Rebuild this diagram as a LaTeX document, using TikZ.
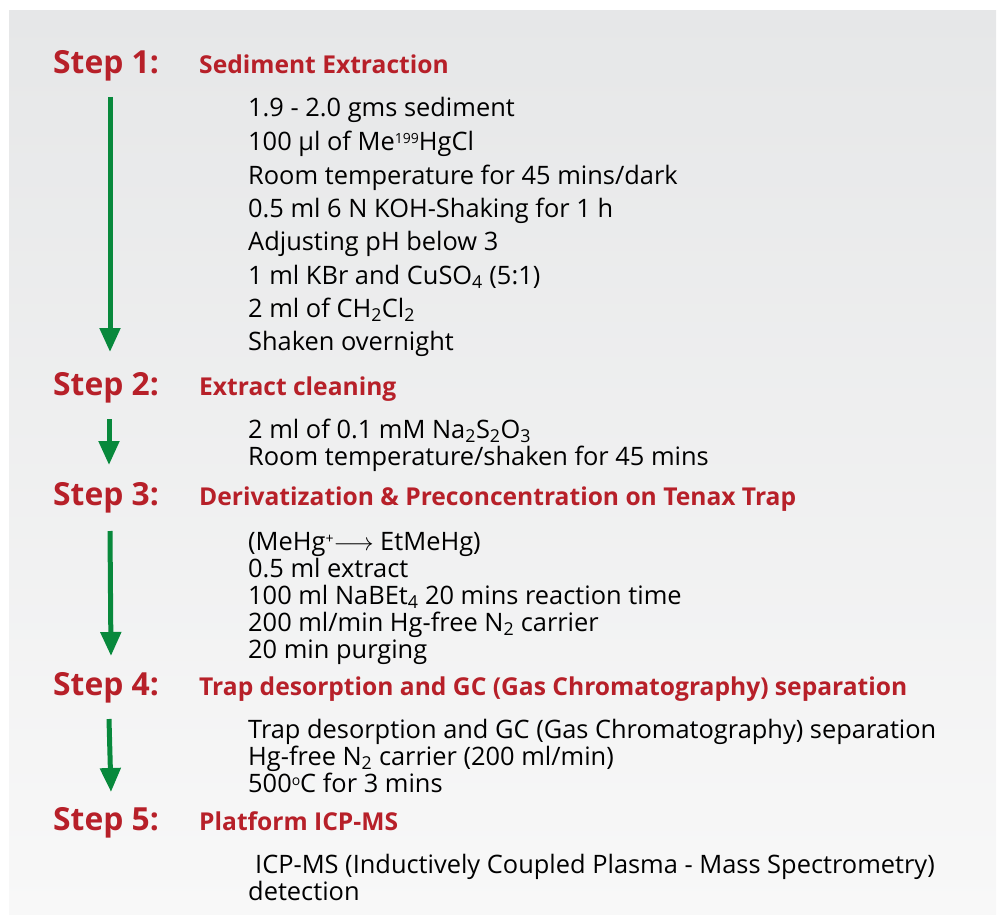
\documentclass[tikz,border=0pt]{standalone}
\usepackage{fontspec}
\setmainfont{Open Sans}
\usepackage{tikz}
\usetikzlibrary{arrows.meta}

\definecolor{stepred}{RGB}{183,32,41}
\definecolor{flowgreen}{RGB}{8,137,60}
\definecolor{bgtop}{RGB}{230,231,232}
\definecolor{bgbottom}{RGB}{248,248,248}
\newcommand{\upsc}[1]{\raisebox{0.5ex}{\fontsize{14}{14}\selectfont #1}}

\begin{document}
\begin{tikzpicture}[x=1pt,y=-1pt, inner sep=0pt, >={Triangle[width=20pt,length=24pt]},
  steplabel/.style={anchor=base west, text=stepred, font=\fontsize{31.8}{32}\selectfont\bfseries},
  stephead/.style={anchor=base west, text=stepred, font=\fontsize{24.6}{25}\selectfont\bfseries},
  item/.style={anchor=base west, text=black, font=\fontsize{25.4}{27}\selectfont},
  flow/.style={->, draw=flowgreen, line width=5pt}]
\useasboundingbox (0,0) rectangle (998,915);
\shade[top color=bgtop, bottom color=bgbottom] (9,11) rectangle (996,915);
% step 1
\node (s1) at (53,74) [steplabel] {Step 1:};
\node (h1) at (199,74) [stephead] {Sediment Extraction};
\node (l11) at (248,117) [item] {1.9 - 2.0 gms sediment};
\node (l12) at (248,150) [item] {100 µl of Me\upsc{199}HgCl};
\node (l13) at (248,184) [item] {Room temperature for 45 mins/dark};
\node (l14) at (248,217) [item] {0.5 ml 6 N KOH-Shaking for 1 h};
\node (l15) at (248,250) [item] {Adjusting pH below 3};
\node (l16) at (248,284) [item] {1 ml KBr and CuSO\textsubscript{4} (5:1)};
\node (l17) at (248,317) [item] {2 ml of CH\textsubscript{2}Cl\textsubscript{2}};
\node (l18) at (248,350) [item] {Shaken overnight};
% step 2
\node (s2) at (53,395) [steplabel] {Step 2:};
\node (h2) at (199,395) [stephead] {Extract cleaning};
\node (l21) at (248,438) [item] {2 ml of 0.1 mM Na\textsubscript{2}S\textsubscript{2}O\textsubscript{3}};
\node (l22) at (248,465) [item] {Room temperature/shaken for 45 mins};
% step 3
\node (s3) at (53,505) [steplabel] {Step 3:};
\node (h3) at (199,505) [stephead] {Derivatization \& Preconcentration on Tenax Trap};
\node (l31) at (248,550) [item] {(MeHg\upsc{+}$\longrightarrow$ EtMeHg)};
\node (l32) at (248,577) [item] {0.5 ml extract};
\node (l33) at (248,604) [item] {100 ml NaBEt\textsubscript{4} 20 mins reaction time};
\node (l34) at (248,631) [item] {200 ml/min Hg-free N\textsubscript{2} carrier};
\node (l35) at (248,658) [item] {20 min purging};
% step 4
\node (s4) at (53,695) [steplabel] {Step 4:};
\node (h4) at (199,695) [stephead] {Trap desorption and GC (Gas Chromatography) separation};
\node (l41) at (248,738) [item] {Trap desorption and GC (Gas Chromatography) separation};
\node (l42) at (248,765) [item] {Hg-free N\textsubscript{2} carrier (200 ml/min)};
\node (l43) at (248,792) [item] {500\upsc{o}C for 3 mins};
% step 5
\node (s5) at (53,830) [steplabel] {Step 5:};
\node (h5) at (199,830) [stephead] {Platform ICP-MS};
\node (l51) at (255,873) [item] {ICP-MS (Inductively Coupled Plasma - Mass Spectrometry)};
\node (l52) at (248,900) [item] {detection};
% arrows
\coordinate (a1) at (110,97);
\coordinate (b1) at (110,352);
\coordinate (a2) at (109,419);
\coordinate (b2) at (109,465);
\coordinate (a3) at (110,531);
\coordinate (b3) at (111,656);
\coordinate (a4) at (109,719);
\coordinate (b4) at (111,792);
\draw[flow] (a1) -- (b1);
\draw[flow] (a2) -- (b2);
\draw[flow] (a3) -- (b3);
\draw[flow] (a4) -- (b4);
\end{tikzpicture}
\end{document}
